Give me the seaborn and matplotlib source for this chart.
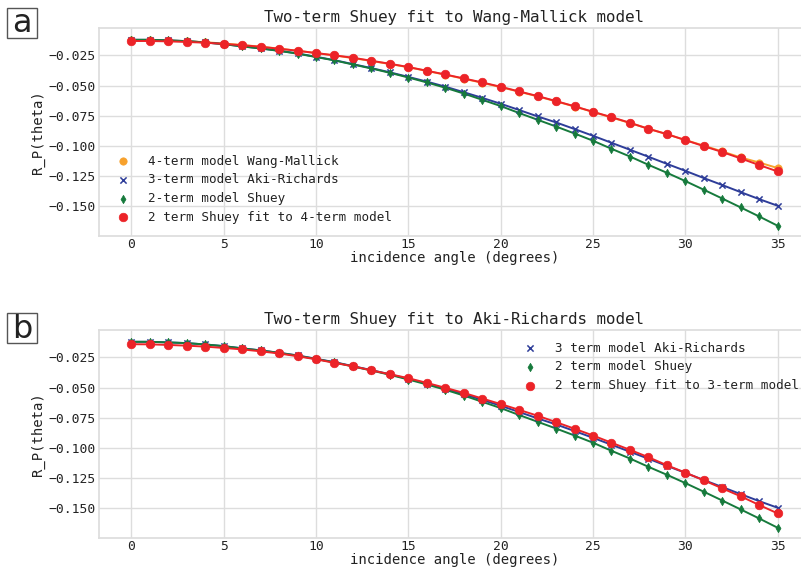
import numpy as np
import pandas as pd
import matplotlib
matplotlib.use("Agg")
import matplotlib.pyplot as plt
import seaborn as sns
from matplotlib.patches import Rectangle

angles = list(range(36))

wang_mallick = [-0.0121, -0.0122, -0.0126, -0.0132, -0.0140, -0.0151, -0.0163, -0.0177, -0.0193, -0.0211,
                -0.0230, -0.0250, -0.0272, -0.0296, -0.0321, -0.0348, -0.0378, -0.0410, -0.0443, -0.0477,
                -0.0513, -0.0551, -0.0590, -0.0631, -0.0674, -0.0719, -0.0765, -0.0811, -0.0858, -0.0904,
                -0.0952, -0.0999, -0.1047, -0.1097, -0.1139, -0.1185]

aki_richards = [-0.0120, -0.0120, -0.0125, -0.0131, -0.0142, -0.0156, -0.0174, -0.0191, -0.0211, -0.0233,
                -0.0261, -0.0289, -0.0322, -0.0355, -0.0390, -0.0428, -0.0467, -0.0509, -0.0555, -0.0602,
                -0.0651, -0.0703, -0.0756, -0.0806, -0.0861, -0.0917, -0.0975, -0.1033, -0.1091, -0.1150,
                -0.1208, -0.1268, -0.1326, -0.1385, -0.1443, -0.1498]

shuey = [-0.0120, -0.0120, -0.0125, -0.0131, -0.0142, -0.0156, -0.0175, -0.0192, -0.0212, -0.0235,
         -0.0263, -0.0291, -0.0325, -0.0358, -0.0394, -0.0433, -0.0474, -0.0518, -0.0566, -0.0618,
         -0.0670, -0.0728, -0.0784, -0.0840, -0.0898, -0.0958, -0.1025, -0.1089, -0.1158, -0.1224,
         -0.1293, -0.1365, -0.1438, -0.1512, -0.1587, -0.1664]

shuey_fit_4term = [-0.0130, -0.0130, -0.0133, -0.0138, -0.0144, -0.0154, -0.0165, -0.0178, -0.0194, -0.0211,
                   -0.0230, -0.0249, -0.0269, -0.0294, -0.0319, -0.0346, -0.0377, -0.0408, -0.0441, -0.0474,
                   -0.0510, -0.0549, -0.0587, -0.0629, -0.0672, -0.0718, -0.0762, -0.0809, -0.0859, -0.0903,
                   -0.0953, -0.1003, -0.1052, -0.1105, -0.1160, -0.1213]

shuey_fit_3term = [-0.0140, -0.0141, -0.0146, -0.0152, -0.0160, -0.0171, -0.0183, -0.0199, -0.0217, -0.0240,
                   -0.0265, -0.0295, -0.0323, -0.0357, -0.0389, -0.0422, -0.0461, -0.0502, -0.0544, -0.0591,
                   -0.0637, -0.0685, -0.0734, -0.0787, -0.0842, -0.0898, -0.0958, -0.1017, -0.1078, -0.1145,
                   -0.1206, -0.1270, -0.1337, -0.1403, -0.1475, -0.1545]

yticks = [-0.025, -0.050, -0.075, -0.100, -0.125, -0.150]
xticks = [0, 5, 10, 15, 20, 25, 30, 35]

C_OR = '#f7a12c'
C_BL = '#2e3d99'
C_GR = '#167a3c'
C_RD = '#ec2328'

sns.set_theme(style="whitegrid")
plt.rcParams['font.family'] = ['DejaVu Sans Mono']
plt.rcParams['axes.edgecolor'] = '#dddddd'
plt.rcParams['grid.color'] = '#dddddd'
plt.rcParams['text.color'] = '#222222'
plt.rcParams['xtick.color'] = '#222222'
plt.rcParams['ytick.color'] = '#222222'
plt.rcParams['axes.labelcolor'] = '#222222'

fig = plt.figure(figsize=(8.01, 5.71), dpi=100)
W, H = 801, 571
def pos(x0, y0, x1, y1):
    return [x0 / W, 1 - y1 / H, (x1 - x0) / W, (y1 - y0) / H]

ax_a = fig.add_axes(pos(99, 28, 810, 236))
ax_b = fig.add_axes(pos(99, 330, 810, 538))

def draw(ax, series):
    for vals, color, marker, ms, label in series:
        sns.lineplot(x=angles, y=vals, color=color, lw=1.4, ax=ax, zorder=2)
        sns.scatterplot(x=angles, y=vals, color=color, marker=marker, s=ms, ax=ax,
                        label=label, edgecolor=color if marker != 'x' else None,
                        linewidth=1.1 if marker == 'x' else 0.5, zorder=3)

draw(ax_a, [
    (wang_mallick, C_OR, 'o', 28, '4-term model Wang-Mallick'),
    (aki_richards, C_BL, 'x', 20, '3-term model Aki-Richards'),
    (shuey, C_GR, 'd', 18, '2-term model Shuey'),
    (shuey_fit_4term, C_RD, 'o', 38, '2 term Shuey fit to 4-term model'),
])
draw(ax_b, [
    (aki_richards, C_BL, 'x', 20, '3 term model Aki-Richards'),
    (shuey, C_GR, 'd', 18, '2 term model Shuey'),
    (shuey_fit_3term, C_RD, 'o', 38, '2 term Shuey fit to 3-term model'),
])

titles = ['Two-term Shuey fit to Wang-Mallick model', 'Two-term Shuey fit to Aki-Richards model']
for ax, t in zip([ax_a, ax_b], titles):
    ax.set_xlim(-1.75, 36.75)
    ax.set_ylim(-0.1749, -0.0022)
    ax.set_xticks(xticks)
    ax.set_yticks(yticks)
    ax.tick_params(axis='y', labelsize=9.4, length=0, pad=2.5)
    ax.tick_params(axis='x', labelsize=9.4, length=0, pad=1.5)
    ax.set_xlabel('incidence angle (degrees)', fontsize=10, labelpad=0)
    ax.set_ylabel('R_P(theta)', fontsize=10, labelpad=2)
    ax.set_title(t, fontsize=11.4, pad=4)
    for s in ax.spines.values():
        s.set_color('#dddddd')

ax_a.legend(loc='lower left', frameon=False, fontsize=9.1, handletextpad=1.0,
            borderaxespad=0.4, labelspacing=0.45, bbox_to_anchor=(0.002, 0.01))
ax_b.legend(loc='upper right', frameon=False, fontsize=9.1, handletextpad=1.0,
            borderaxespad=0.3, labelspacing=0.45, bbox_to_anchor=(0.997, 0.986))

for lab, (x0, y0) in zip(['a', 'b'], [(7, 8), (7, 313)]):
    rect = Rectangle((x0 / W, 1 - (y0 + 30) / H), 30 / W, 30 / H, transform=fig.transFigure,
                     facecolor='white', edgecolor='#555555', lw=1.0)
    fig.patches.append(rect)
    fig.text((x0 + 15) / W, 1 - (y0 + 16) / H, lab, ha='center', va='center',
             fontsize=23, family=['Liberation Sans Narrow', 'DejaVu Sans'],
             color='#222222')

fig.savefig('out.png', dpi=100)
